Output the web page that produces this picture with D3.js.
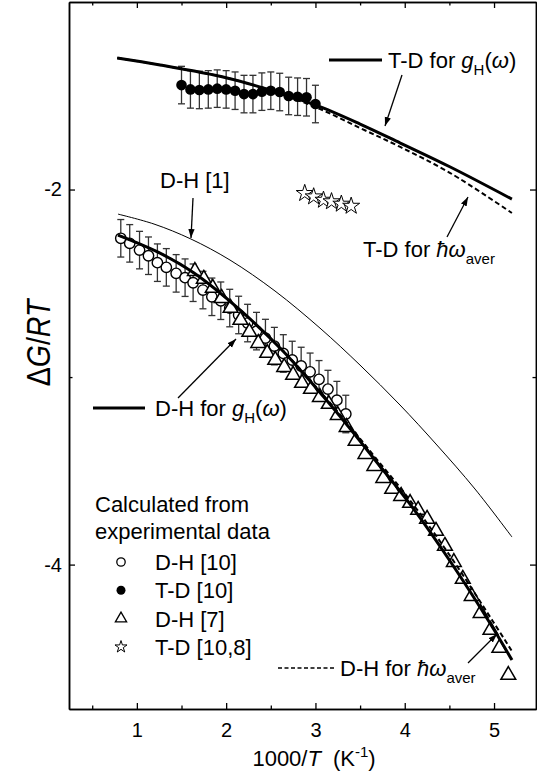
<!DOCTYPE html>
<html lang="en">
<head>
    <meta charset="UTF-8">
    <script src="https://d3js.org/d3.v7.min.js"></script>
    <title>Delta G / RT</title>
    <style>
        body { margin: 0; background: #fff; }
        text { font-family: "Liberation Sans", Arial, sans-serif; fill: #000; }
    </style>
</head>
<body>
<div id="viz"></div>
<script>
    // ---- data ----
    // calculated curves (x = 1000/T)
    const tdCurveX = [0.78, 1.26, 2.01, 2.49, 3.0, 3.5, 3.95, 4.51, 5.2];
    const tdGhY = [-1.299, -1.336, -1.405, -1.469, -1.549, -1.651, -1.752, -1.880, -2.051];
    const tdAverY = [-1.299, -1.336, -1.405, -1.472, -1.560, -1.672, -1.773, -1.912, -2.125];

    const dhCurveX = [0.789, 1.259, 1.640, 2.155, 2.625, 3.084, 3.364, 3.667, 4.059, 4.507, 4.988, 5.201];
    const dhGhY = [-2.243, -2.339, -2.445, -2.642, -2.856, -3.101, -3.261, -3.442, -3.677, -3.981, -4.338, -4.509];
    const dhAverY = [-2.243, -2.339, -2.445, -2.642, -2.854, -3.094, -3.250, -3.427, -3.657, -3.953, -4.303, -4.462];

    const dh1X = [0.789, 1.192, 1.606, 2.043, 2.547, 3.051, 3.499, 3.947, 4.350, 4.787, 5.201];
    const dh1Y = [-2.131, -2.184, -2.264, -2.376, -2.541, -2.739, -2.936, -3.149, -3.357, -3.597, -3.853];

    // experimental points
    const dh10X = [0.82, 0.92, 1.03, 1.13, 1.23, 1.33, 1.44, 1.54, 1.63, 1.74, 1.84, 1.94, 2.04,
        2.14, 2.24, 2.34, 2.44, 2.54, 2.64, 2.74, 2.84, 2.94, 3.04, 3.14, 3.24, 3.34];
    const dh10Y = [-2.260, -2.287, -2.323, -2.353, -2.390, -2.415, -2.447, -2.470, -2.497, -2.536, -2.572, -2.593, -2.632,
        -2.669, -2.712, -2.755, -2.792, -2.835, -2.874, -2.909, -2.941, -2.972, -3.012, -3.064, -3.123, -3.197];
    const dh10Err = 0.1;

    const td10X = [1.5, 1.6, 1.7, 1.8, 1.9, 2.0, 2.1, 2.2, 2.3, 2.4, 2.5, 2.6, 2.7, 2.8, 2.9, 3.0];
    const td10Y = [-1.443, -1.466, -1.469, -1.466, -1.462, -1.466, -1.473, -1.491, -1.491, -1.478, -1.473, -1.480,
        -1.501, -1.505, -1.508, -1.544];
    const td10Err = 0.1;

    const dh7X = [1.65, 1.75, 1.85, 1.95, 2.05, 2.16, 2.26, 2.36, 2.46, 2.55, 2.65, 2.75, 2.85, 2.95, 3.05, 3.15,
        3.25, 3.35, 3.45, 3.56, 3.66, 3.76, 3.86, 3.96, 4.06, 4.15, 4.25, 4.35, 4.45, 4.55, 4.65, 4.75, 4.85,
        4.96, 5.06, 5.16];
    const dh7Y = [-2.435, -2.477, -2.525, -2.579, -2.632, -2.696, -2.760, -2.819, -2.872, -2.909, -2.947, -2.989,
        -3.032, -3.064, -3.107, -3.144, -3.203, -3.267, -3.341, -3.411, -3.475, -3.539, -3.597, -3.635, -3.672,
        -3.709, -3.757, -3.821, -3.901, -3.987, -4.077, -4.168, -4.259, -4.349, -4.445, -4.589];

    const td108X = [2.88, 2.98, 3.09, 3.18, 3.29, 3.40];
    const td108Y = [-2.020, -2.038, -2.056, -2.064, -2.077, -2.088];

    // axis ticks
    const xMajor = [1, 2, 3, 4, 5];
    const xMinor = [0.5, 1.5, 2.5, 3.5, 4.5];
    const yMajor = [-2, -4];
    const yMinor = [-3];

    const legendItems = ["D-H [10]", "T-D [10]", "D-H [7]", "T-D [10,8]"];

    // ---- layout ----
    const W = 537, H = 776;
    const plot = {left: 69, right: 536, top: 2, bottom: 709};

    const svg = d3.select("#viz")
        .append("svg")
        .attr("width", W)
        .attr("height", H);

    const x = d3.scaleLinear().domain([0.24, 5.47]).range([plot.left, plot.right]);
    const y = d3.scaleLinear().domain([-4.77, -1.0]).range([plot.bottom, plot.top]);

    svg.append("defs").append("marker")
        .attr("id", "arrow")
        .attr("viewBox", "0 0 10 10")
        .attr("refX", 10).attr("refY", 5)
        .attr("markerWidth", 9).attr("markerHeight", 9)
        .attr("markerUnits", "userSpaceOnUse")
        .attr("orient", "auto")
        .append("path")
        .attr("d", "M0,1.5 L10,5 L0,8.5 Z")
        .attr("fill", "#000");

    // ---- axes ----
    function styleAxis(g) {
        g.selectAll(".domain").attr("stroke-width", 1.5);
        g.selectAll(".tick line").attr("stroke-width", 1.3);
        g.selectAll("text").style("font-size", "20px").style("font-family", "Liberation Sans, Arial, sans-serif");
    }

    svg.append("g")
        .attr("transform", `translate(0,${plot.bottom})`)
        .call(d3.axisBottom(x).tickValues(xMajor).tickSizeInner(-6).tickSizeOuter(0).tickPadding(14)
            .tickFormat(d => String(d)))
        .call(styleAxis);
    svg.append("g")
        .attr("transform", `translate(0,${plot.bottom})`)
        .call(d3.axisBottom(x).tickValues(xMinor).tickSizeInner(-3.5).tickSizeOuter(0).tickFormat(""))
        .call(styleAxis);
    svg.append("g")
        .attr("transform", `translate(0,${plot.top})`)
        .call(d3.axisTop(x).tickValues(xMajor).tickSizeInner(-6).tickSizeOuter(0).tickFormat(""))
        .call(styleAxis);
    svg.append("g")
        .attr("transform", `translate(0,${plot.top})`)
        .call(d3.axisTop(x).tickValues(xMinor).tickSizeInner(-3.5).tickSizeOuter(0).tickFormat(""))
        .call(styleAxis);

    svg.append("g")
        .attr("transform", `translate(${plot.left},0)`)
        .call(d3.axisLeft(y).tickValues(yMajor).tickSizeInner(-6).tickSizeOuter(0).tickPadding(7)
            .tickFormat(d => String(d)))
        .call(styleAxis);
    svg.append("g")
        .attr("transform", `translate(${plot.left},0)`)
        .call(d3.axisLeft(y).tickValues(yMinor).tickSizeInner(-3.5).tickSizeOuter(0).tickFormat(""))
        .call(styleAxis);
    svg.append("g")
        .attr("transform", `translate(${plot.right},0)`)
        .call(d3.axisRight(y).tickValues(yMajor).tickSizeInner(-6).tickSizeOuter(0).tickFormat(""))
        .call(styleAxis);
    svg.append("g")
        .attr("transform", `translate(${plot.right},0)`)
        .call(d3.axisRight(y).tickValues(yMinor).tickSizeInner(-3.5).tickSizeOuter(0).tickFormat(""))
        .call(styleAxis);

    // rich text helper: parts = [{t, i (italic), sub, sup, dx}]
    function rich(g, px, py, parts, size, anchor) {
        const t = g.append("text")
            .attr("x", px).attr("y", py)
            .attr("text-anchor", anchor || "start")
            .style("font-size", size + "px");
        let shifted = 0;
        parts.forEach(p => {
            const s = t.append("tspan").text(p.t);
            if (p.i) s.style("font-style", "italic");
            if (p.dx) s.attr("dx", p.dx);
            const want = p.sub ? Math.round(size * 0.3) : p.sup ? -Math.round(size * 0.4) : 0;
            if (want !== shifted) {
                s.attr("dy", want - shifted);
                shifted = want;
            }
            if (p.sub || p.sup) s.style("font-size", Math.round(size * 0.68) + "px");
        });
        return t;
    }

    // axis titles
    rich(svg, 314, 766, [{t: "1000/"}, {t: "T", i: true}, {t: "(K", dx: 12}, {t: "-1", sup: true}, {t: ")"}], 22, "middle");

    const yTitle = svg.append("text")
        .attr("transform", `translate(50,343) rotate(-90) scale(0.84,1)`)
        .attr("text-anchor", "middle")
        .style("font-size", "34px");
    yTitle.append("tspan").text("Δ");
    yTitle.append("tspan").text("G").style("font-style", "italic");
    yTitle.append("tspan").text("/");
    yTitle.append("tspan").text("RT").style("font-style", "italic");

    // ---- marks ----
    const marks = svg.append("g");
    const zip = (xs, ys) => xs.map((v, i) => ({x: v, y: ys[i]}));
    const line = d3.line().x(d => x(d.x)).y(d => y(d.y)).curve(d3.curveCatmullRom.alpha(0.5));

    // D-H [1] thin line
    marks.append("path").datum(zip(dh1X, dh1Y)).attr("d", line)
        .attr("fill", "none").attr("stroke", "#000").attr("stroke-width", 1);

    // error bars
    function errorBars(pts, err) {
        const g = marks.append("g").attr("stroke", "#333").attr("stroke-width", 1.3);
        pts.forEach(d => {
            const x0 = x(d.x), y1 = y(d.y + err), y2 = y(d.y - err);
            g.append("line").attr("x1", x0).attr("x2", x0).attr("y1", y1).attr("y2", y2);
            g.append("line").attr("x1", x0 - 3.5).attr("x2", x0 + 3.5).attr("y1", y1).attr("y2", y1);
            g.append("line").attr("x1", x0 - 3.5).attr("x2", x0 + 3.5).attr("y1", y2).attr("y2", y2);
        });
    }

    const dh10 = zip(dh10X, dh10Y);
    const td10 = zip(td10X, td10Y);
    errorBars(dh10, dh10Err);
    errorBars(td10, td10Err);

    marks.append("g").selectAll("circle").data(dh10).join("circle")
        .attr("cx", d => x(d.x)).attr("cy", d => y(d.y)).attr("r", 5.2)
        .attr("fill", "#fff").attr("stroke", "#000").attr("stroke-width", 1.4);

    marks.append("g").selectAll("path").data(zip(dh7X, dh7Y)).join("path")
        .attr("transform", d => `translate(${x(d.x)},${y(d.y)})`)
        .attr("d", d3.symbol(d3.symbolTriangle, 95))
        .attr("fill", "#fff").attr("stroke", "#000").attr("stroke-width", 1.5);

    marks.append("g").selectAll("circle").data(td10).join("circle")
        .attr("cx", d => x(d.x)).attr("cy", d => y(d.y)).attr("r", 5.3)
        .attr("fill", "#000");

    marks.append("g").selectAll("path").data(zip(td108X, td108Y)).join("path")
        .attr("transform", d => `translate(${x(d.x)},${y(d.y)})`)
        .attr("d", d3.symbol(d3.symbolStar, 90))
        .attr("fill", "#fff").attr("stroke", "#000").attr("stroke-width", 1);

    // calculated curves
    marks.append("path").datum(zip(tdCurveX, tdAverY)).attr("d", line)
        .attr("fill", "none").attr("stroke", "#000").attr("stroke-width", 2).attr("stroke-dasharray", "5,3");
    marks.append("path").datum(zip(tdCurveX, tdGhY)).attr("d", line)
        .attr("fill", "none").attr("stroke", "#000").attr("stroke-width", 3);
    marks.append("path").datum(zip(dhCurveX, dhAverY)).attr("d", line)
        .attr("fill", "none").attr("stroke", "#000").attr("stroke-width", 2).attr("stroke-dasharray", "5,3");
    marks.append("path").datum(zip(dhCurveX, dhGhY)).attr("d", line)
        .attr("fill", "none").attr("stroke", "#000").attr("stroke-width", 3);

    // ---- annotations ----
    const ann = svg.append("g");
    const arrow = (x1, y1, x2, y2) => ann.append("line")
        .attr("x1", x1).attr("y1", y1).attr("x2", x2).attr("y2", y2)
        .attr("stroke", "#000").attr("stroke-width", 1.3).attr("marker-end", "url(#arrow)");

    // T-D for gH(w)
    ann.append("line").attr("x1", 329).attr("x2", 382).attr("y1", 60).attr("y2", 60)
        .attr("stroke", "#000").attr("stroke-width", 3);
    rich(ann, 388, 68, [{t: "T-D for "}, {t: "g", i: true}, {t: "H", sub: true}, {t: "("}, {t: "ω", i: true}, {t: ")"}], 22);
    arrow(402, 75, 385, 126);

    // T-D for hbar w_aver
    rich(ann, 363, 257, [{t: "T-D for "}, {t: "ħω", i: true}, {t: "aver", sub: true}], 22);
    arrow(447, 237, 468, 197);

    // D-H [1]
    rich(ann, 160, 188, [{t: "D-H [1]"}], 22);
    arrow(193, 198, 191, 238);

    // D-H for gH(w)
    ann.append("line").attr("x1", 93).attr("x2", 145).attr("y1", 408).attr("y2", 408)
        .attr("stroke", "#000").attr("stroke-width", 3);
    rich(ann, 155, 416, [{t: "D-H for "}, {t: "g", i: true}, {t: "H", sub: true}, {t: "("}, {t: "ω", i: true}, {t: ")"}], 22);
    arrow(178, 398, 236, 339);

    // D-H for hbar w_aver
    ann.append("line").attr("x1", 278).attr("x2", 334).attr("y1", 668).attr("y2", 668)
        .attr("stroke", "#000").attr("stroke-width", 1.6).attr("stroke-dasharray", "4,2.5");
    rich(ann, 340, 676, [{t: "D-H for "}, {t: "ħω", i: true}, {t: "aver", sub: true}], 22);
    arrow(468, 663, 497, 634);

    // experimental legend
    rich(ann, 95, 512, [{t: "Calculated from"}], 22);
    rich(ann, 95, 539, [{t: "experimental data"}], 22);
    const legX = 121, legY0 = 562, legDy = 28.3;
    legendItems.forEach((label, i) => {
        const cy = legY0 + i * legDy;
        if (i === 0) {
            ann.append("circle").attr("cx", legX).attr("cy", cy).attr("r", 4.2)
                .attr("fill", "#fff").attr("stroke", "#000").attr("stroke-width", 1.3);
        } else if (i === 1) {
            ann.append("circle").attr("cx", legX).attr("cy", cy).attr("r", 4.5).attr("fill", "#000");
        } else if (i === 2) {
            ann.append("path").attr("transform", `translate(${legX},${cy})`)
                .attr("d", d3.symbol(d3.symbolTriangle, 55))
                .attr("fill", "#fff").attr("stroke", "#000").attr("stroke-width", 1.3);
        } else {
            ann.append("path").attr("transform", `translate(${legX},${cy})`)
                .attr("d", d3.symbol(d3.symbolStar, 45))
                .attr("fill", "#fff").attr("stroke", "#000").attr("stroke-width", 1);
        }
        rich(ann, 155, cy + 8, [{t: label}], 22);
    });
</script>
</body>
</html>
